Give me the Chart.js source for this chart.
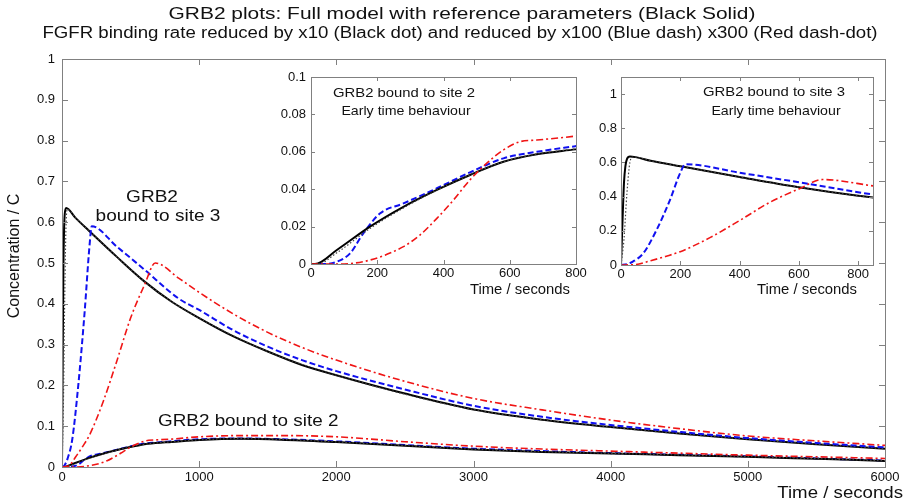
<!DOCTYPE html>
<html>
<head>
<meta charset="utf-8">
<script src="https://cdn.jsdelivr.net/npm/chart.js@4.4.1/dist/chart.umd.min.js"></script>
<style>
  html, body { margin: 0; padding: 0; background: #fff; }
  #wrap { position: relative; width: 906px; height: 502px; overflow: hidden; }
  canvas { position: absolute; }
</style>
</head>
<body>
<div id="wrap">
  <canvas id="main" width="906" height="502" style="left:0;top:0"></canvas>
  <canvas id="ins2" width="330" height="234" style="left:262px;top:66px"></canvas>
  <canvas id="ins3" width="300" height="236" style="left:588px;top:66px"></canvas>
</div>
<script>
// ---- data (time in seconds, concentration C) ----

// GRB2 bound to site 3
const s3SolidT = [0, 5, 10, 15, 20, 30, 100, 200, 400, 600, 800, 1000, 1250, 1500, 1750, 2000, 2500, 3000, 3500, 4000, 4500, 5000, 5500, 6000];
const s3SolidV = [0, 0.25, 0.48, 0.58, 0.62, 0.635, 0.61, 0.578, 0.515, 0.455, 0.405, 0.365, 0.32, 0.283, 0.25, 0.225, 0.18, 0.141, 0.116, 0.098, 0.082, 0.068, 0.056, 0.045];
const s3DotT = [0, 10, 20, 30, 40, 100, 200, 400, 600, 800, 1000, 1500, 2000, 3000, 4000, 5000, 6000];
const s3DotV = [0, 0.15, 0.42, 0.6, 0.632, 0.61, 0.578, 0.515, 0.455, 0.405, 0.365, 0.283, 0.225, 0.141, 0.098, 0.068, 0.045];
const s3BlueT = [0, 20, 40, 75, 120, 165, 200, 217, 400, 600, 850, 1000, 1250, 1500, 1750, 2000, 2500, 3000, 3500, 4000, 4500, 5000, 5500, 6000];
const s3BlueV = [0, 0.005, 0.02, 0.068, 0.205, 0.38, 0.54, 0.59, 0.54, 0.484, 0.413, 0.385, 0.335, 0.295, 0.262, 0.235, 0.19, 0.15, 0.123, 0.103, 0.086, 0.071, 0.059, 0.048];
const s3RedT = [0, 50, 100, 150, 200, 300, 400, 500, 600, 680, 850, 1000, 1250, 1500, 1750, 2000, 2500, 3000, 3500, 4000, 4500, 5000, 5500, 6000];
const s3RedV = [0, 0.003, 0.025, 0.05, 0.078, 0.16, 0.26, 0.365, 0.445, 0.5, 0.463, 0.428, 0.375, 0.33, 0.293, 0.262, 0.21, 0.168, 0.14, 0.115, 0.094, 0.076, 0.064, 0.053];

// GRB2 bound to site 2
const s2SolidT = [0, 12, 78, 178, 279, 380, 480, 581, 682, 798, 1000, 1300, 1600, 2000, 2500, 3000, 3500, 4000, 4500, 5000, 5500, 6000];
const s2SolidV = [0, 0, 0.0075, 0.020, 0.0306, 0.0396, 0.0476, 0.0547, 0.0587, 0.0613, 0.066, 0.069, 0.067, 0.061, 0.052, 0.043, 0.037, 0.033, 0.029, 0.025, 0.020, 0.015];
const s2DotT = [0, 20, 78, 178, 279, 380, 480, 581, 682, 798, 1000, 1300, 1600, 2000, 2500, 3000, 3500, 4000, 4500, 5000, 5500, 6000];
const s2DotV = [0, 0, 0.006, 0.019, 0.030, 0.0395, 0.0476, 0.0547, 0.0588, 0.0615, 0.0665, 0.0695, 0.0675, 0.0615, 0.0525, 0.0435, 0.0375, 0.0335, 0.0295, 0.0255, 0.0205, 0.0155];
const s2BlueT = [0, 36, 78, 118, 158, 208, 279, 380, 480, 581, 682, 798, 1000, 1300, 1600, 2000, 2500, 3000, 3500, 4000, 4500, 5000, 5500, 6000];
const s2BlueV = [0, 0, 0.0012, 0.0057, 0.0164, 0.027, 0.0324, 0.0405, 0.049, 0.0565, 0.060, 0.063, 0.068, 0.070, 0.068, 0.063, 0.054, 0.045, 0.039, 0.034, 0.030, 0.026, 0.021, 0.016];
const s2RedT = [0, 88, 178, 279, 329, 380, 430, 480, 530, 581, 631, 682, 798, 1000, 1300, 1600, 2000, 2500, 3000, 3500, 4000, 4500, 5000, 5500, 6000];
const s2RedV = [0, 0, 0.0021, 0.0093, 0.0155, 0.0244, 0.0342, 0.045, 0.0538, 0.061, 0.0654, 0.0663, 0.0684, 0.074, 0.077, 0.077, 0.074, 0.062, 0.051, 0.044, 0.039, 0.034, 0.029, 0.025, 0.021];

// axis ticks
const mainXTicks = [0, 1000, 2000, 3000, 4000, 5000, 6000];
const mainYTicks = [0, 0.1, 0.2, 0.3, 0.4, 0.5, 0.6, 0.7, 0.8, 0.9, 1];
const ins2XTicks = [0, 200, 400, 600, 800];
const ins2YTicks = [0, 0.02, 0.04, 0.06, 0.08, 0.1];
const ins3XTicks = [0, 200, 400, 600, 800];
const ins3YTicks = [0, 0.2, 0.4, 0.6, 0.8, 1];

const FONT = 'Arial, "Liberation Sans", sans-serif';
Chart.defaults.font.family = FONT;
Chart.defaults.color = '#111';

const pts = (t, v) => t.map((x, i) => ({ x, y: v[i] }));

const styles = {
  solid: { borderColor: '#000', borderWidth: 2 },
  dot: { borderColor: '#444', borderWidth: 1.2, borderDash: [1.5, 2] },
  blue: { borderColor: '#1010f0', borderWidth: 2, borderDash: [6, 3] },
  red: { borderColor: '#f01515', borderWidth: 1.6, borderDash: [7, 3, 2, 3] }
};

function ds(label, t, v, style) {
  return Object.assign({
    label,
    data: pts(t, v),
    pointRadius: 0,
    fill: false,
    cubicInterpolationMode: 'monotone'
  }, style);
}

const site3Sets = () => [
  ds('Site 3 x300', s3RedT, s3RedV, styles.red),
  ds('Site 3 x100', s3BlueT, s3BlueV, styles.blue),
  ds('Site 3 x10', s3DotT, s3DotV, styles.dot),
  ds('Site 3 reference', s3SolidT, s3SolidV, styles.solid)
];
const site2Sets = () => [
  ds('Site 2 x300', s2RedT, s2RedV, styles.red),
  ds('Site 2 x10', s2DotT, s2DotV, styles.dot),
  ds('Site 2 reference', s2SolidT, s2SolidV, styles.solid),
  ds('Site 2 x100', s2BlueT, s2BlueV, styles.blue)
];

// white plot background + MATLAB style box with inward ticks
const boxPlugin = {
  id: 'box',
  beforeDatasetsDraw(chart, args, opts) {
    const a = chart.chartArea, ctx = chart.ctx;
    if (opts.white) {
      ctx.save();
      ctx.fillStyle = '#fff';
      ctx.fillRect(a.left, a.top, a.right - a.left, a.bottom - a.top);
      ctx.restore();
    }
  },
  afterDatasetsDraw(chart, args, opts) {
    const a = chart.chartArea, ctx = chart.ctx;
    const len = opts.len || 5;
    ctx.save();
    ctx.strokeStyle = '#808080';
    ctx.lineWidth = 1;
    ctx.beginPath();
    chart.scales.x.ticks.forEach(t => {
      const px = Math.round(chart.scales.x.getPixelForValue(t.value)) + 0.5;
      ctx.moveTo(px, a.bottom); ctx.lineTo(px, a.bottom - len);
      ctx.moveTo(px, a.top); ctx.lineTo(px, a.top + len);
    });
    chart.scales.y.ticks.forEach(t => {
      const py = Math.round(chart.scales.y.getPixelForValue(t.value)) + 0.5;
      ctx.moveTo(a.left, py); ctx.lineTo(a.left + len, py);
      ctx.moveTo(a.right, py); ctx.lineTo(a.right - len, py);
    });
    ctx.stroke();
    ctx.strokeRect(Math.round(a.left) + 0.5, Math.round(a.top) + 0.5,
      Math.round(a.right - a.left), Math.round(a.bottom - a.top));
    ctx.restore();
  }
};

// free text (titles, annotations); positions are page coordinates,
// sx widens the glyphs a little like the stretched original export
const textPlugin = {
  id: 'texts',
  afterDraw(chart, args, opts) {
    const ctx = chart.ctx;
    (opts.items || []).forEach(it => {
      ctx.save();
      ctx.fillStyle = '#111';
      ctx.font = it.size + 'px ' + FONT;
      ctx.textAlign = it.align || 'center';
      ctx.textBaseline = 'middle';
      ctx.translate(it.x - opts.ox, it.y - opts.oy);
      if (it.rot) ctx.rotate(it.rot);
      ctx.scale(it.sx || 1.1, 1);
      ctx.fillText(it.text, 0, 0);
      ctx.restore();
    });
  }
};

const fmt = v => String(+(+v).toFixed(3));

function makeChart(id, sets, o) {
  return new Chart(document.getElementById(id), {
    type: 'line',
    data: { datasets: sets },
    plugins: [boxPlugin, textPlugin],
    options: {
      responsive: false,
      animation: false,
      devicePixelRatio: 1,
      layout: { padding: o.pad },
      plugins: {
        legend: { display: false },
        tooltip: { enabled: false },
        box: { white: o.white, len: o.tickLen },
        texts: { items: o.texts, ox: o.ox, oy: o.oy }
      },
      scales: {
        x: {
          type: 'linear', min: 0, max: o.xMax,
          afterBuildTicks: s => { s.ticks = o.xTicks.map(value => ({ value })); },
          afterFit: s => { s.height = o.xH; s.paddingLeft = 0; s.paddingRight = 0; },
          grid: { display: false, drawTicks: false },
          border: { display: false },
          ticks: { padding: o.xPad, maxRotation: 0, autoSkip: false, font: { size: 13 }, color: '#111', callback: fmt }
        },
        y: {
          type: 'linear', min: 0, max: o.yMax,
          afterBuildTicks: s => { s.ticks = o.yTicks.map(value => ({ value })); },
          afterFit: s => { s.width = o.yW; s.paddingTop = 0; s.paddingBottom = 0; },
          grid: { display: false, drawTicks: false },
          border: { display: false },
          ticks: { padding: o.yPad, autoSkip: false, font: { size: 13 }, color: '#111', callback: fmt }
        }
      }
    }
  });
}

makeChart('main', [...site3Sets(), ...site2Sets()], {
  pad: { left: 0, top: 59, right: 21, bottom: 0 },
  xMax: 6000, yMax: 1, xTicks: mainXTicks, yTicks: mainYTicks,
  xH: 35, yW: 62, xPad: 3, yPad: 7, tickLen: 6, white: false, ox: 0, oy: 0,
  texts: [
    { text: 'GRB2 plots: Full model with reference parameters (Black Solid)', x: 462, y: 14, size: 17, sx: 1.23 },
    { text: 'FGFR binding rate reduced by x10 (Black dot) and reduced by x100 (Blue dash) x300 (Red dash-dot)', x: 460, y: 34, size: 16, sx: 1.165 },
    { text: 'Concentration / C', x: 15, y: 256, size: 16, sx: 1, rot: -Math.PI / 2 },
    { text: 'Time / seconds', x: 903, y: 493, size: 16.5, align: 'right', sx: 1.13 },
    { text: 'GRB2', x: 152, y: 197, size: 17, sx: 1.12 },
    { text: 'bound to site 3', x: 158, y: 216, size: 17, sx: 1.12 },
    { text: 'GRB2 bound to site 2', x: 158, y: 421, size: 17, align: 'left', sx: 1.11 }
  ]
});

makeChart('ins2', site2Sets(), {
  pad: { left: 0, top: 11, right: 16, bottom: 0 },
  xMax: 800, yMax: 0.1, xTicks: ins2XTicks, yTicks: ins2YTicks,
  xH: 36, yW: 49, xPad: 2, yPad: 5, tickLen: 4, white: true, ox: 262, oy: 66,
  texts: [
    { text: 'GRB2 bound to site 2', x: 404, y: 93, size: 13.5, sx: 1.1 },
    { text: 'Early time behaviour', x: 406, y: 111, size: 13.5, sx: 1.05 },
    { text: 'Time / seconds', x: 570, y: 290, size: 14, align: 'right', sx: 1.06 }
  ]
});

makeChart('ins3', site3Sets(), {
  pad: { left: 0, top: 11, right: 15, bottom: 0 },
  xMax: 850, yMax: 1.1, xTicks: ins3XTicks, yTicks: ins3YTicks,
  xH: 37, yW: 33, xPad: 2, yPad: 4, tickLen: 4, white: true, ox: 588, oy: 66,
  texts: [
    { text: 'GRB2 bound to site 3', x: 774, y: 92, size: 13.5, sx: 1.1 },
    { text: 'Early time behaviour', x: 776, y: 111, size: 13.5, sx: 1.05 },
    { text: 'Time / seconds', x: 857, y: 290, size: 14, align: 'right', sx: 1.06 }
  ]
});
</script>
</body>
</html>
